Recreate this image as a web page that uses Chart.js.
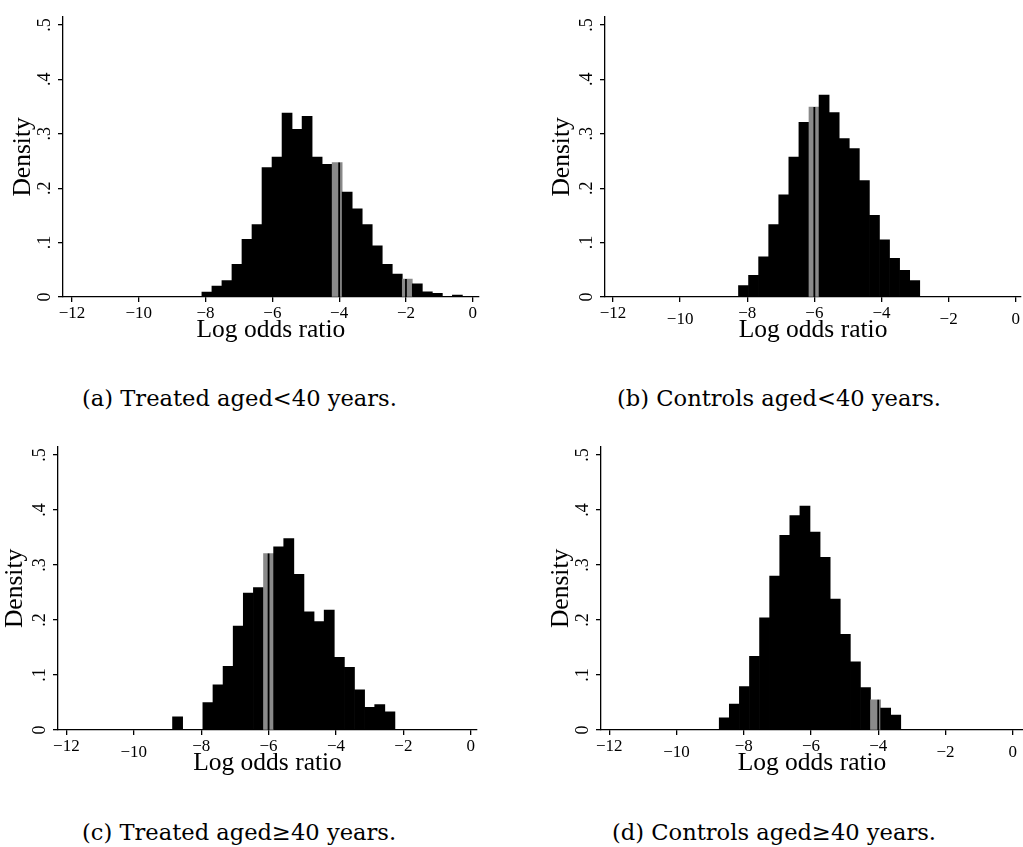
<!DOCTYPE html>
<html>
<head>
<meta charset="utf-8">
<script src="https://cdn.jsdelivr.net/npm/chart.js@4.4.1/dist/chart.umd.min.js"></script>
<style>
  body { margin: 0; background: #fff; }
  #page { position: relative; width: 1023px; height: 847px; overflow: hidden; background: #fff; }
  canvas { position: absolute; }
  .cap { position: absolute; font-family: 'DejaVu Serif'; font-size: 22.6px; line-height: 26px; color: #000; white-space: nowrap; }
</style>
</head>
<body>
<div id="page">
  <canvas id="ca"></canvas>
  <canvas id="cb"></canvas>
  <canvas id="cc"></canvas>
  <canvas id="cd"></canvas>
  <div class="cap" style="left:82px; top:385px;">(a) Treated aged&lt;40 years.</div>
  <div class="cap" style="left:617px; top:385px;">(b) Controls aged&lt;40 years.</div>
  <div class="cap" style="left:82px; top:819px;">(c) Treated aged&#8805;40 years.</div>
  <div class="cap" style="left:612px; top:819px;">(d) Controls aged&#8805;40 years.</div>
</div>
<script>
// shared axes
const xTicks = [-12, -10, -8, -6, -4, -2, 0];
const yTicks = [0, 0.1, 0.2, 0.3, 0.4, 0.5];
const yTickLabels = ['0', '.1', '.2', '.3', '.4', '.5'];
const binWidth = 0.3;

// (a) treated < 40
const startA = -8.11;
const densityA = [0.009, 0.020, 0.030, 0.060, 0.106, 0.133, 0.238, 0.257, 0.338, 0.308, 0.332, 0.257, 0.244,
                  0.247, 0.193, 0.162, 0.133, 0.094, 0.060, 0.042, 0.033, 0.024, 0.0095, 0.0066, 0, 0.0036];
const marksA = [-4, -2];
const dropsA = [];

// (b) controls < 40
const startB = -8.26;
const densityB = [0.021, 0.040, 0.074, 0.133, 0.188, 0.257, 0.321, 0.349, 0.371, 0.339, 0.291, 0.273, 0.214,
                  0.150, 0.105, 0.071, 0.049, 0.030];
const marksB = [-6];
const dropsB = [-10, -2, 0];

// (c) treated >= 40
const startC = -8.85;
const densityC = [0.024, 0, 0, 0.050, 0.082, 0.116, 0.189, 0.249, 0.259, 0.321, 0.333, 0.348, 0.283, 0.215,
                  0.197, 0.218, 0.132, 0.114, 0.073, 0.041, 0.046, 0.033];
const marksC = [-6];
const dropsC = [-10];

// (d) controls >= 40
const startD = -8.73;
const densityD = [0.022, 0.047, 0.079, 0.134, 0.204, 0.280, 0.354, 0.390, 0.407, 0.360, 0.314, 0.238, 0.174,
                  0.124, 0.077, 0.055, 0.040, 0.027];
const marksD = [-4];
const dropsD = [-10, -2, 0];

const serif = 'Liberation Serif';
const gray = '#8a8a8a';

function fmtX(v) {
    return v < 0 ? '\u2212' + Math.abs(v) : String(v);
}

function makeHist(id, box, start, density, marks, drops) {
    const canvas = document.getElementById(id);
    canvas.width = box.w;
    canvas.height = box.h;
    canvas.style.left = box.left + 'px';
    canvas.style.top = box.top + 'px';
    canvas.style.width = box.w + 'px';
    canvas.style.height = box.h + 'px';

    const points = density.map((d, i) => ({ x: start + (i + 0.5) * binWidth, y: d }));

    // bins that hold a marked value get the gray fill and a black line
    const grayBins = marks.map(m => Math.floor((m - start) / binWidth));
    const lineSets = marks.map((m, k) => ({
        type: 'line',
        data: [{ x: m, y: 0 }, { x: m, y: density[grayBins[k]] }],
        borderColor: '#000',
        borderWidth: 1.8,
        pointRadius: 0,
        order: 0
    }));

    const gridOpts = { display: true, drawOnChartArea: false, drawTicks: true, tickLength: 5, color: '#000', lineWidth: 1.3, offset: false };
    const borderOpts = { display: true, color: '#000', width: 1.3 };

    new Chart(canvas.getContext('2d'), {
        type: 'bar',
        data: {
            datasets: [{
                data: points,
                backgroundColor: ctx => grayBins.includes(ctx.dataIndex) ? gray : '#000',
                borderWidth: 0,
                barPercentage: 1,
                categoryPercentage: 1,
                order: 1
            }, ...lineSets]
        },
        options: {
            responsive: false,
            animation: false,
            devicePixelRatio: 1,
            layout: { padding: { top: box.areaTop - box.top, left: 0, right: 0, bottom: 0 } },
            plugins: { legend: { display: false }, tooltip: { enabled: false } },
            scales: {
                x: {
                    type: 'linear',
                    min: box.xMin,
                    max: box.xMax,
                    offset: false,
                    grid: gridOpts,
                    border: borderOpts,
                    afterBuildTicks: s => { s.ticks = xTicks.map(v => ({ value: v })); },
                    afterFit: s => { s.height = box.top + box.h - box.axisBottom; },
                    ticks: {
                        autoSkip: false, minRotation: 0, maxRotation: 0, padding: 3, color: '#000',
                        font: ctx => ({ family: serif, size: 17, lineHeight: (ctx.tick && drops.includes(ctx.tick.value)) ? 1.7 : 1.0 }),
                        callback: v => fmtX(v)
                    },
                    title: { display: true, text: 'Log odds ratio', color: '#000', font: { family: serif, size: 25.5 }, padding: { top: 0, bottom: 5 } }
                },
                y: {
                    type: 'linear',
                    min: 0,
                    max: 0.515,
                    grid: gridOpts,
                    border: borderOpts,
                    afterBuildTicks: s => { s.ticks = yTicks.map(v => ({ value: v })); },
                    afterFit: s => { s.width = box.axisLeft - box.left; },
                    ticks: {
                        autoSkip: false, minRotation: 90, maxRotation: 90, crossAlign: 'center', padding: 6, color: '#000',
                        font: { family: serif, size: 18 },
                        callback: (v, i) => yTickLabels[i]
                    },
                    title: { display: true, text: 'Density', color: '#000', font: { family: serif, size: 25.5 }, padding: { top: 8, bottom: 0 } }
                }
            }
        }
    });
}

makeHist('ca', { left: 0, top: 0, w: 480, h: 351, axisLeft: 63, areaTop: 8, axisBottom: 297, xMin: -12.269, xMax: 0.179 },
         startA, densityA, marksA, dropsA);
makeHist('cb', { left: 539, top: 0, w: 484, h: 351, axisLeft: 605, areaTop: 8, axisBottom: 297, xMin: -12.237, xMax: 0.158 },
         startB, densityB, marksB, dropsB);
makeHist('cc', { left: -8, top: 430, w: 486, h: 354, axisLeft: 58, areaTop: 440, axisBottom: 730, xMin: -12.249, xMax: 0.186 },
         startC, densityC, marksC, dropsC);
makeHist('cd', { left: 538, top: 430, w: 485, h: 354, axisLeft: 601, areaTop: 440, axisBottom: 730, xMin: -12.247, xMax: 0.306 },
         startD, densityD, marksD, dropsD);
</script>
</body>
</html>
